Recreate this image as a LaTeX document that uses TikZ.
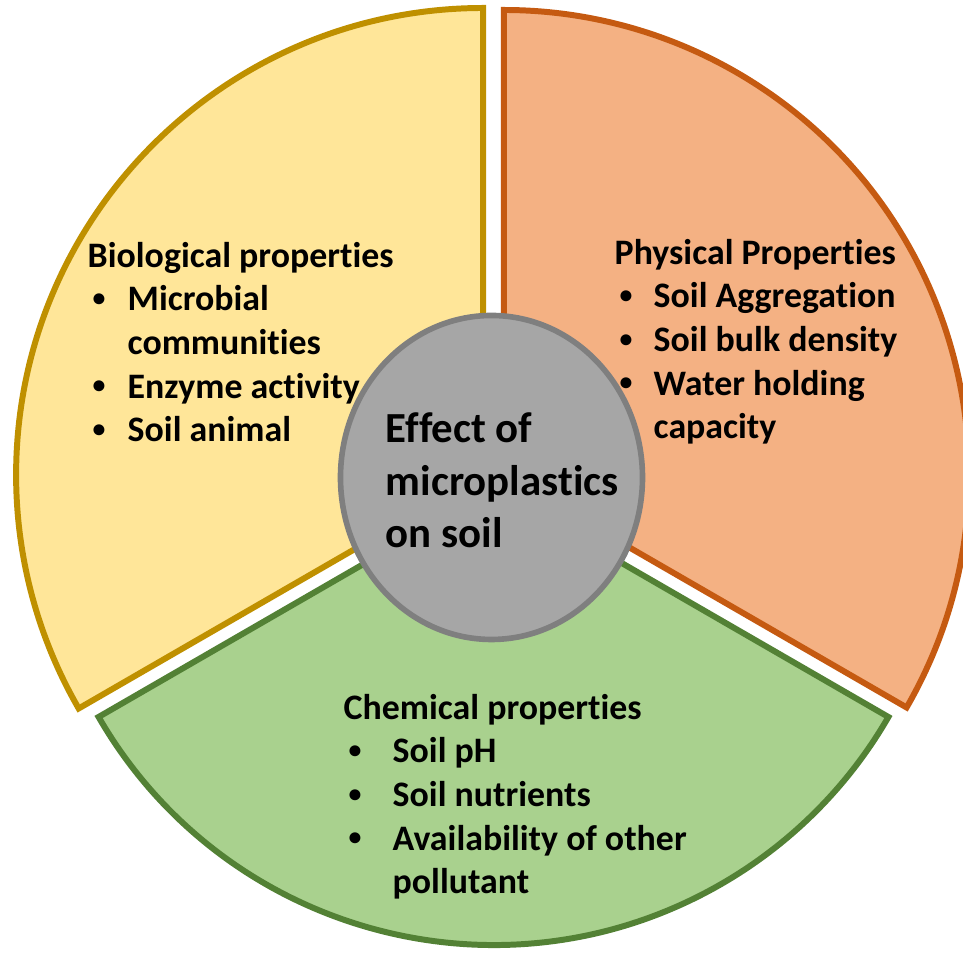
\documentclass[tikz,border=0pt]{standalone}
\usepackage{fontspec}
\setmainfont{Carlito}[Ligatures=NoCommon]
\usepackage{tikz}
\usepackage{xcolor}
\usetikzlibrary{shapes.geometric}

\definecolor{bioFill}{HTML}{FFE699}
\definecolor{bioLine}{HTML}{BF9000}
\definecolor{physFill}{HTML}{F4B183}
\definecolor{physLine}{HTML}{C55A11}
\definecolor{chemFill}{HTML}{A9D18E}
\definecolor{chemLine}{HTML}{538135}
\definecolor{hubFill}{HTML}{A6A6A6}
\definecolor{hubLine}{HTML}{7F7F7F}

% bullet line and its follow-on line
\newcommand{\dotmark}{\hspace*{0.05cm}\raisebox{0.12em}{\scalebox{0.72}{\textbullet}}}
\newcommand{\itm}[2][0.4cm]{\makebox[#1][l]{\dotmark}#2}
\newcommand{\cont}[2][0.4cm]{\hspace*{#1}#2}

\tikzset{
  slice/.style={line width=1.7pt},
  listtext/.style={anchor=base west, align=left, inner sep=0pt,
    font=\bfseries\fontsize{10.2}{12.43}\selectfont},
}

\begin{document}
\begin{tikzpicture}
        \useasboundingbox (0,0) rectangle (9.63,9.53);

        % Draw the three slices, each pushed out a little from the middle
        \begin{scope}[shift={(4.935,4.72)}]
            \filldraw[slice, fill=bioFill, draw=bioLine, shift={(150:0.12)}]
                (0,0) -- (90:4.67) arc (90:210:4.67) -- cycle;
            \filldraw[slice, fill=physFill, draw=physLine, shift={(30:0.12)}]
                (0,0) -- (-30:4.65) arc (-30:90:4.65) -- cycle;
            \filldraw[slice, fill=chemFill, draw=chemLine, shift={(270:0.08)}]
                (0,0) -- (210:4.56) arc (210:330:4.56) -- cycle;
        \end{scope}

        % Grey disc in the middle
        \node (hub) [ellipse, draw=hubLine, fill=hubFill, line width=1.6pt,
            minimum width=3.02cm, minimum height=3.24cm, inner sep=0pt] at (4.915,4.755) {};
        \node (hubtext) [anchor=base west, align=left, inner sep=0pt,
            font=\bfseries\fontsize{12.2}{14.94}\selectfont] at (3.85,4.05)
            {Effect of\\ microplastics\\ on soil};

        % Lists of properties in each slice
        \node (bio) [listtext] at (0.87,5.11)
            {Biological properties\\ \itm{Microbial}\\ \cont{communities}\\
             \itm{Enzyme activity}\\ \itm{Soil animal}};
        \node (phys) [listtext] at (6.14,5.14)
            {Physical Properties\\ \itm[0.39cm]{Soil Aggregation}\\ \itm[0.39cm]{Soil bulk density}\\
             \itm[0.39cm]{Water holding}\\ \cont[0.39cm]{capacity}};
        \node (chem) [listtext] at (3.43,0.59)
            {Chemical properties\\ \itm[0.49cm]{Soil pH}\\ \itm[0.49cm]{Soil nutrients}\\
             \itm[0.49cm]{Availability of other}\\ \cont[0.49cm]{pollutant}};
    \end{tikzpicture}
\end{document}
